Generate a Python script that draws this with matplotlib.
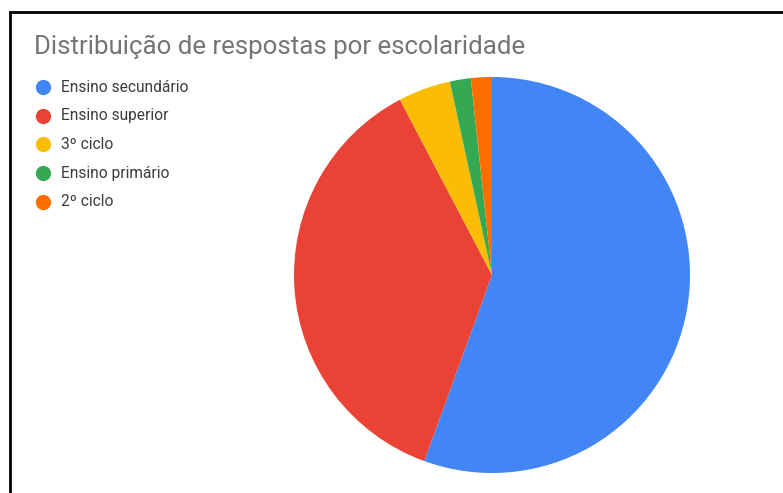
import matplotlib.pyplot as plt
from matplotlib.lines import Line2D

# data
labels = ['Ensino secundário', 'Ensino superior', '3º ciclo', 'Ensino primário', '2º ciclo']
counts = [65, 43, 5, 2, 2]
colors = ['#4285F4', '#EA4335', '#FBBC04', '#34A853', '#FF6D01']

plt.rcParams['font.family'] = ['Roboto', 'DejaVu Sans']

W, H = 783, 493
fig = plt.figure(figsize=(W / 100, H / 100), dpi=100)
fig.patch.set_facecolor('white')

# overlay in pixel coords for title + legend
bg = fig.add_axes([0, 0, 1, 1])
bg.set_xlim(0, W)
bg.set_ylim(H, 0)
bg.axis('off')

bg.text(34, 47, 'Distribuição de respostas por escolaridade', fontsize=18.6,
        color='#757575', va='center', ha='left')

y0, dy = 87, 28.7
for i, (lab, col) in enumerate(zip(labels, colors)):
    y = y0 + i * dy
    bg.plot(43, y, 'o', ms=11, color=col, mec='none')
    bg.text(61, y, lab, fontsize=11.2, color='#3c3c3c', va='center', ha='left')

# pie
cx, cy, r = 492, 275, 198
ax = fig.add_axes([(cx - r) / W, (H - cy - r) / H, 2 * r / W, 2 * r / H])
ax.pie(counts, colors=colors, startangle=90, counterclock=False,
       wedgeprops={'linewidth': 0})
ax.set_xlim(-1, 1)
ax.set_ylim(-1, 1)

# frame lines (top and left)
fig.add_artist(Line2D([10 / W, 1], [1 - 12 / H, 1 - 12 / H], color='black', lw=2,
                      transform=fig.transFigure))
fig.add_artist(Line2D([10 / W, 10 / W], [0, 1 - 12 / H], color='black', lw=2,
                      transform=fig.transFigure))

fig.savefig('out.png', dpi=100)
